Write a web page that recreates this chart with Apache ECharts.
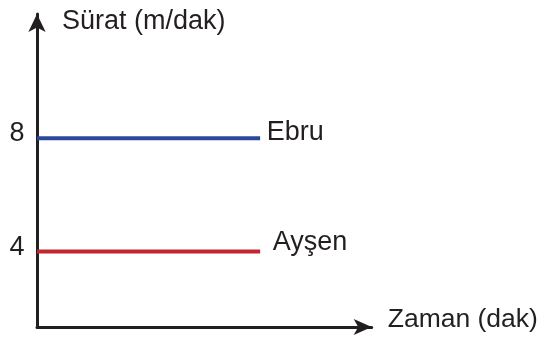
<!DOCTYPE html>
<html lang="tr">
<head>
<meta charset="utf-8">
<script src="https://cdn.jsdelivr.net/npm/echarts@6/dist/echarts.min.js"></script>
<style>
  html, body { margin: 0; padding: 0; background: #fff; }
  #chart { width: 539px; height: 338px; }
</style>
</head>
<body>
<div id="chart"></div>
<script>
// veriler
var names = ['Ebru', 'Ayşen'];
var speeds = [8, 4];          // m/dak
var timeSpan = [0, 2];        // yatay çizginin başı ve sonu
var yTicks = [4, 8];
var colors = ['#2a4898', '#c1272f'];

var ink = '#231f20';
var font = 'Liberation Sans, Arial, sans-serif';
var fs = 27;

var chart = echarts.init(document.getElementById('chart'));

var series = [];
for (var i = 0; i < names.length; i++) {
    series.push({
        name: names[i],
        type: 'line',
        symbol: 'none',
        silent: true,
        data: [[timeSpan[0], speeds[i]], [timeSpan[1], speeds[i]]],
        lineStyle: { color: colors[i], width: 4 },
        endLabel: {
            show: true,
            formatter: '{a}',
            color: ink,
            fontFamily: font,
            fontSize: fs,
            distance: i === 0 ? 6.5 : 12.5,
            offset: [0, i === 0 ? -6 : -9]
        }
    });
}

var option = {
    animation: false,
    grid: { left: 37, right: 167.3, top: 14, bottom: 11, outerBoundsMode: 'none' },
    xAxis: {
        type: 'value',
        min: 0,
        max: 3,
        name: 'Zaman (dak)',
        nameLocation: 'end',
        nameGap: 16,
        nameTextStyle: {
            color: ink, fontFamily: font, fontSize: 26.5,
            align: 'left', verticalAlign: 'bottom', lineHeight: 14
        },
        axisLine: {
            onZero: false,
            symbol: ['none', 'arrow'],
            symbolSize: [12, 18],
            lineStyle: { color: ink, width: 3 }
        },
        axisTick: { show: false },
        axisLabel: { show: false },
        splitLine: { show: false }
    },
    yAxis: {
        type: 'value',
        min: 1.34,
        max: 12.38,
        name: 'Sürat (m/dak)',
        nameLocation: 'end',
        nameGap: -7.5,
        nameTextStyle: {
            color: ink, fontFamily: font, fontSize: fs,
            align: 'left', verticalAlign: 'middle', padding: [0, 0, 0, 25]
        },
        axisLine: {
            show: true,
            onZero: false,
            symbol: ['none', 'arrow'],
            symbolSize: [13, 18],
            lineStyle: { color: ink, width: 3 }
        },
        axisTick: { show: false },
        axisLabel: {
            customValues: yTicks,
            color: ink,
            fontFamily: font,
            fontSize: fs,
            margin: 12.5,
            verticalAlign: 'bottom',
            lineHeight: 9
        },
        splitLine: { show: false }
    },
    series: series
};

chart.setOption(option);
</script>
</body>
</html>
